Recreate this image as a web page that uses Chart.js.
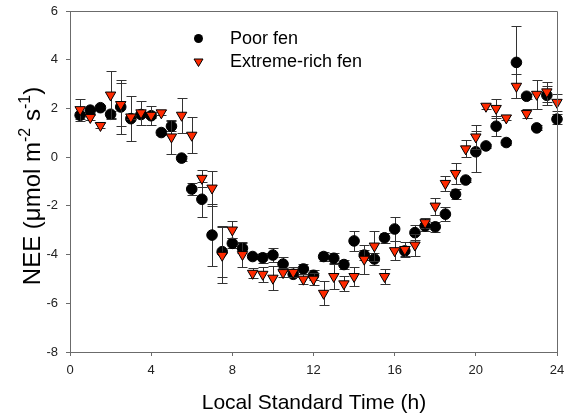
<!DOCTYPE html>
<html>
<head>
<meta charset="utf-8">
<script src="https://cdn.jsdelivr.net/npm/chart.js@4.4.1/dist/chart.umd.min.js"></script>
<style>
  html, body { margin: 0; padding: 0; background: #fff; }
  #wrap { width: 564px; height: 414px; }
</style>
</head>
<body>
<div id="wrap"><canvas id="nee"></canvas></div>
<script>
// half-hourly time of day (h)
var hours = [0.5, 1, 1.5, 2, 2.5, 3, 3.5, 4, 4.5, 5, 5.5, 6,
             6.5, 7, 7.5, 8, 8.5, 9, 9.5, 10, 10.5, 11, 11.5, 12,
             12.5, 13, 13.5, 14, 14.5, 15, 15.5, 16, 16.5, 17, 17.5, 18,
             18.5, 19, 19.5, 20, 20.5, 21, 21.5, 22, 22.5, 23, 23.5, 24];

// Poor fen NEE and error
var poorNEE = [1.72, 1.93, 2.03, 1.76, 2.06, 1.58, 1.75, 1.70, 1.01, 1.27, -0.04, -1.31,
               -1.73, -3.20, -3.88, -3.54, -3.74, -4.08, -4.13, -4.02, -4.39, -4.81, -4.59, -4.85,
               -4.08, -4.15, -4.41, -3.44, -4.02, -4.18, -3.31, -2.95, -3.85, -3.10, -2.83, -2.86,
               -2.34, -1.52, -0.94, 0.22, 0.46, 1.27, 0.60, 3.89, 2.50, 1.20, 2.54, 1.56];
var poorErr = [0.15, 0.1, 0.1, 0.15, 1.1, 0.93, 0.1, 0.1, 0.1, 0.2, 0.1, 0.25,
               0.73, 1.27, 1.05, 0.2, 0.2, 0.1, 0.2, 0.3, 0.3, 0.1, 0.2, 0.2,
               0.2, 0.2, 0.2, 0.4, 0.2, 0.25, 0.2, 0.5, 0.2, 0.3, 0.2, 0.2,
               0.3, 0.2, 0.1, 0.85, 0.1, 0.4, 0.1, 1.48, 0.1, 0.1, 0.4, 0.2];

// Extreme-rich fen NEE and error
var richNEE = [1.95, 1.63, 1.30, 2.55, 2.16, 1.65, 1.82, 1.72, 1.82, 0.83, 1.72, 0.90,
               -0.87, -1.27, -4.03, -2.99, -4.00, -4.77, -4.81, -4.97, -4.74, -4.73, -5.01, -5.01,
               -5.59, -4.90, -5.20, -4.90, -4.19, -3.65, -4.90, -3.84, -3.79, -3.61, -2.69, -2.01,
               -1.08, -0.67, 0.34, 0.83, 2.09, 2.00, 1.61, 2.91, 1.79, 2.58, 2.68, 2.25];
var richErr = [0.45, 0.1, 0.1, 1.0, 0.9, 0.1, 0.48, 0.4, 0.1, 0.7, 0.72, 0.75,
               0.35, 0.72, 1.15, 0.35, 0.5, 0.2, 0.3, 0.5, 0.2, 0.2, 0.2, 0.25,
               0.5, 0.5, 0.3, 0.4, 0.6, 0.6, 0.3, 0.4, 0.3, 0.45, 0.2, 0.35,
               0.3, 0.45, 0.35, 0.5, 0.1, 0.4, 0.1, 0.5, 0.2, 0.6, 0.4, 0.35];

var xTicks = [0, 4, 8, 12, 16, 20, 24];
var yTicks = [-8, -6, -4, -2, 0, 2, 4, 6];

var FONT = '"Liberation Sans", Arial, sans-serif';
var AXIS = '#6b6b6b';

function pts(vals) {
  return hours.map(function (h, i) { return { x: h, y: vals[i] }; });
}

// vertical error bars, drawn just before each dataset so markers sit on top
var errorBars = {
  id: 'errorBars',
  beforeDatasetDraw: function (chart, args) {
    var ds = chart.data.datasets[args.index];
    if (!ds.errors) return;
    var ctx = chart.ctx, xs = chart.scales.x, ys = chart.scales.y;
    ctx.save();
    ctx.strokeStyle = '#333';
    ctx.lineWidth = 1;
    ctx.beginPath();
    ds.data.forEach(function (p, i) {
      var e = ds.errors[i];
      var px = Math.round(xs.getPixelForValue(p.x)) + 0.5;
      var top = Math.round(ys.getPixelForValue(p.y + e)) + 0.5;
      var bot = Math.round(ys.getPixelForValue(p.y - e)) + 0.5;
      ctx.moveTo(px, top); ctx.lineTo(px, bot);
      ctx.moveTo(px - 5, top); ctx.lineTo(px + 5, top);
      ctx.moveTo(px - 5, bot); ctx.lineTo(px + 5, bot);
    });
    ctx.stroke();
    ctx.restore();
  }
};

// frame, axis titles and legend
var decor = {
  id: 'decor',
  afterDraw: function (chart) {
    var ctx = chart.ctx, a = chart.chartArea;
    ctx.save();
    ctx.strokeStyle = AXIS;
    ctx.lineWidth = 1;
    ctx.beginPath();
    ctx.moveTo(a.left, a.top + 0.5); ctx.lineTo(a.right + 0.5, a.top + 0.5);
    ctx.lineTo(a.right + 0.5, a.bottom);
    ctx.stroke();

    ctx.fillStyle = '#000';
    // x title
    ctx.font = '21px ' + FONT;
    ctx.textAlign = 'center';
    ctx.textBaseline = 'middle';
    ctx.fillText('Local Standard Time (h)', 314, 403);

    // y title with superscripts
    var parts = [['NEE (\u03bcmol m', 0], ['-2', 1], [' s', 0], ['-1', 1], [')', 0]];
    var total = 0;
    parts.forEach(function (p) {
      ctx.font = (p[1] ? '16px ' : '24px ') + FONT;
      total += ctx.measureText(p[0]).width;
    });
    ctx.translate(31, 186);
    ctx.rotate(-Math.PI / 2);
    ctx.textAlign = 'left';
    ctx.textBaseline = 'alphabetic';
    var x = -total / 2;
    parts.forEach(function (p) {
      ctx.font = (p[1] ? '16px ' : '24px ') + FONT;
      ctx.fillText(p[0], x, p[1] ? -1 : 9);
      x += ctx.measureText(p[0]).width;
    });
    ctx.restore();

    // legend
    ctx.save();
    ctx.lineWidth = 1;
    ctx.fillStyle = '#000';
    ctx.beginPath();
    ctx.arc(198.5, 38.5, 4.5, 0, Math.PI * 2);
    ctx.fill();
    ctx.fillStyle = '#ff2a00';
    ctx.strokeStyle = '#000';
    ctx.beginPath();
    ctx.moveTo(194, 59); ctx.lineTo(203, 59); ctx.lineTo(198.5, 66.5); ctx.closePath();
    ctx.fill(); ctx.stroke();
    ctx.fillStyle = '#000';
    ctx.font = '18px ' + FONT;
    ctx.textAlign = 'left';
    ctx.textBaseline = 'middle';
    ctx.fillText('Poor fen', 230, 39);
    ctx.fillText('Extreme-rich fen', 230, 62);
    ctx.restore();
  }
};

new Chart(document.getElementById('nee'), {
  type: 'scatter',
  data: {
    datasets: [
      {
        label: 'Poor fen',
        data: pts(poorNEE),
        errors: poorErr,
        pointStyle: 'circle',
        pointRadius: 5.3,
        pointBackgroundColor: '#000',
        pointBorderColor: '#000',
        pointBorderWidth: 1,
        clip: false,
        order: 2
      },
      {
        label: 'Extreme-rich fen',
        data: pts(richNEE),
        errors: richErr,
        pointStyle: 'triangle',
        rotation: 180,
        pointRadius: 6,
        pointBackgroundColor: '#ff2a00',
        pointBorderColor: '#000',
        pointBorderWidth: 1,
        clip: false,
        order: 1
      }
    ]
  },
  options: {
    responsive: true,
    maintainAspectRatio: false,
    animation: false,
    events: [],
    layout: { padding: { left: 0, right: 7, top: 11, bottom: 0 } },
    plugins: { legend: { display: false }, tooltip: { enabled: false } },
    scales: {
      x: {
        type: 'linear',
        min: 0, max: 24,
        afterFit: function (s) {
          s.height = 62;
          s.paddingLeft = 0; s.paddingRight = 0;
        },
        afterBuildTicks: function (s) { s.ticks = xTicks.map(function (v) { return { value: v }; }); },
        border: { color: AXIS, width: 1 },
        grid: { drawOnChartArea: false, color: AXIS, tickLength: 4 },
        ticks: { color: '#222', font: { family: FONT, size: 13 }, padding: 7, maxRotation: 0 }
      },
      y: {
        min: -8, max: 6,
        afterFit: function (s) {
          s.width = 70;
          s.paddingTop = 0; s.paddingBottom = 0;
        },
        afterBuildTicks: function (s) { s.ticks = yTicks.map(function (v) { return { value: v }; }); },
        border: { color: AXIS, width: 1 },
        grid: { drawOnChartArea: false, color: AXIS, tickLength: 4 },
        ticks: { color: '#222', font: { family: FONT, size: 13 }, padding: 8 }
      }
    }
  },
  plugins: [errorBars, decor]
});
</script>
</body>
</html>
